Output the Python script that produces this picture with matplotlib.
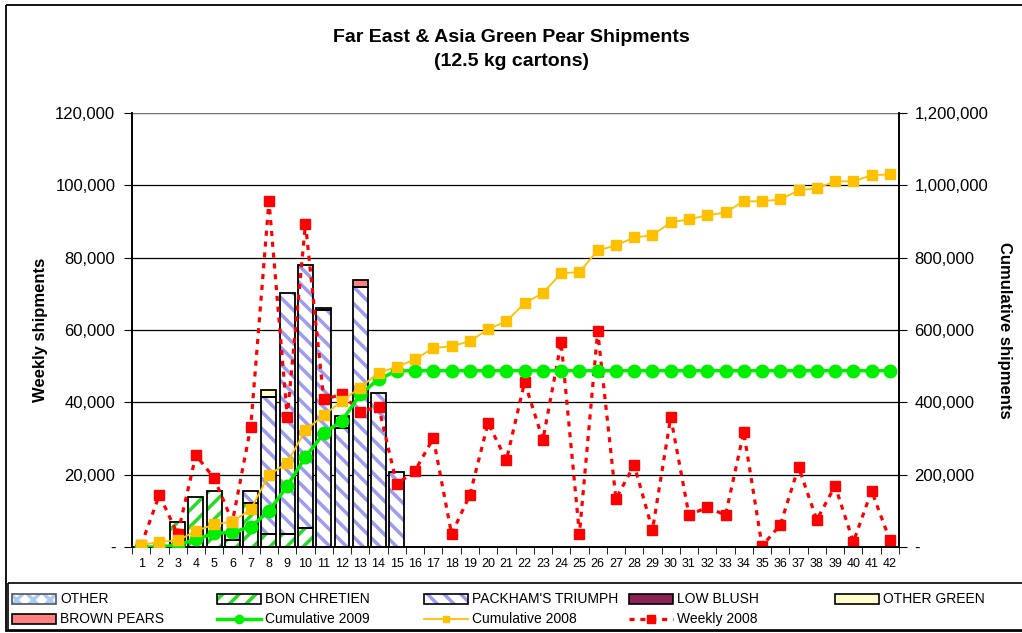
import matplotlib
matplotlib.use("Agg")
import matplotlib.pyplot as plt
import numpy as np
from matplotlib.patches import Rectangle
from matplotlib.lines import Line2D
from matplotlib.ticker import FuncFormatter, FixedLocator

plt.rcParams['font.family'] = ['Liberation Sans', 'DejaVu Sans']
plt.rcParams['hatch.linewidth'] = 2.5

weeks = list(range(1, 43))

bon_chretien = [0, 0, 7000, 13700, 15400, 1900, 12100, 3500, 3500, 5200, 0, 0, 0, 0, 0] + [0] * 27
packham = [0, 0, 0, 0, 0, 1900, 3400, 38000, 66600, 72900, 65500, 32800, 71900, 42600, 20600] + [0] * 27
other_green = [0, 0, 0, 0, 0, 0, 0, 1900, 0, 0, 600, 0, 0, 0, 0] + [0] * 27
brown_pears = [0, 0, 0, 0, 0, 0, 0, 0, 0, 0, 0, 0, 2000, 0, 0] + [0] * 27
low_blush = [0] * 42
other = [0, 0, 0, 0, 0, 0, 0, 0, 0, 0, 0, 3400, 0, 0, 0] + [0] * 27

weekly_2008 = [500, 14400, 3500, 25400, 19000, 7000, 33100, 95700, 36000, 89400,
               40800, 42200, 37400, 38800, 17400, 21100, 30100, 3600, 14400, 34300,
               24000, 45600, 29600, 56600, 3600, 59700, 13300, 22700, 4700, 35900,
               8800, 11000, 8800, 31800, 300, 6100, 22100, 7500, 16900, 1400,
               15500, 1900]

cum_2008 = [5000, 14600, 18000, 44200, 62700, 69900, 104000, 199000, 233000, 323000,
            364000, 404000, 441000, 482000, 498000, 519000, 550000, 555000, 569000, 602000,
            624000, 674000, 702000, 757000, 760000, 820000, 834000, 856000, 862000, 898000,
            906000, 917000, 925000, 956000, 956000, 961000, 986000, 992000, 1011000, 1011000,
            1028000, 1030000]

cum_2009 = [0, 0, 5500, 21000, 38000, 40600, 56000, 99000, 169000, 249000,
            314000, 349000, 422000, 464000, 487000] + [487500] * 27

GREEN_H = '#22DD22'
BLUE_H = '#9C9CF0'
OTHER_H = '#A8CCF2'
WEEKLY_LS = (0, (1.6, 1.8))

W, H = 1022, 633
fig = plt.figure(figsize=(W / 100, H / 100), dpi=100)
L, R, T, B = 132, 899, 113, 547
ax = fig.add_axes([L / W, 1 - B / H, (R - L) / W, (B - T) / H])
ax2 = ax.twinx()

x = np.array(weeks)
bw = 0.82
series = [
    (bon_chretien, 'white', GREEN_H, '//'),
    (packham, 'white', BLUE_H, '\\\\'),
    (other_green, '#FFFFCC', None, None),
    (brown_pears, '#FF8080', None, None),
    (low_blush, '#8B2252', None, None),
    (other, 'white', OTHER_H, None),
]
bottom = np.zeros(42)
for vals, fc, hc, hatch in series:
    v = np.array(vals, dtype=float)
    mask = v > 0
    if mask.any():
        if hatch:
            ax.bar(x[mask], v[mask], bw, bottom=bottom[mask], color=fc, edgecolor=hc,
                   hatch=hatch, linewidth=0, zorder=2)
        else:
            ax.bar(x[mask], v[mask], bw, bottom=bottom[mask], color=fc, linewidth=0, zorder=2)
        ax.bar(x[mask], v[mask], bw, bottom=bottom[mask], fill=False, edgecolor='black',
               linewidth=1.3, zorder=3)
    bottom += v

ax.plot(x, weekly_2008, color='red', linestyle=WEEKLY_LS, linewidth=2.3,
        marker='s', markersize=7, zorder=4)

ax2.plot(x, cum_2009, color='#00EE00', linewidth=2.5, marker='o', markersize=9, zorder=5)
ax2.plot(x, cum_2008, color='#FFC000', linewidth=1.3, marker='s', markersize=6.5, zorder=5)

ax.set_xlim(0.5, 42.5)
ax.set_ylim(0, 120000)
ax2.set_ylim(0, 1200000)
ax.set_yticks(np.arange(0, 120001, 20000))
ax2.set_yticks(np.arange(0, 1200001, 200000))
fmt = FuncFormatter(lambda v, p: '-' if v == 0 else f'{int(v):,}')
ax.yaxis.set_major_formatter(fmt)
ax2.yaxis.set_major_formatter(fmt)
ax.tick_params(axis='y', labelsize=12, direction='out', length=6, pad=6)
ax2.tick_params(axis='y', labelsize=12, direction='out', length=6, pad=5)

ax.set_xticks(x)
ax.set_xticklabels([str(w) for w in weeks], fontsize=9)
ax.tick_params(axis='x', which='major', length=0, pad=8)
ax.xaxis.set_minor_locator(FixedLocator(np.arange(0.5, 43, 1)))
ax.tick_params(axis='x', which='minor', length=5, direction='out')

ax.grid(axis='y', color='black', linewidth=0.9, zorder=0)
ax.set_axisbelow(True)
ax.spines['top'].set_visible(False)
ax2.spines['top'].set_visible(False)
for a in (ax, ax2):
    for s in ('left', 'right', 'bottom'):
        a.spines[s].set_linewidth(1.2)
ax.axhline(120000, color='#888888', linewidth=1.2, zorder=1)

ax.set_ylabel('Weekly shipments', fontsize=12, fontweight='bold', labelpad=5)
ax2.set_ylabel('Cumulative shipments', fontsize=12, fontweight='bold', rotation=-90, labelpad=17)

fig.text(0.5, 1 - 37 / H, 'Far East & Asia Green Pear Shipments', ha='center', va='center',
         fontsize=14, fontweight='bold')
fig.text(0.5, 1 - 61 / H, '(12.5 kg cartons)', ha='center', va='center',
         fontsize=14, fontweight='bold')

# overlay for frame and legend (pixel coordinates)
ov = fig.add_axes([0, 0, 1, 1], zorder=10)
ov.set_xlim(0, W)
ov.set_ylim(H, 0)
ov.axis('off')
ov.patch.set_alpha(0)
ov.add_patch(Rectangle((6, 5), 1040, 626, fill=False, edgecolor='black', linewidth=1.3))
ov.add_patch(Rectangle((8, 583), 1040, 47, fill=False, edgecolor='black', linewidth=1.2))

col_x = [12, 217, 424, 629, 835]
row_y = [599, 619]
kw = 44


def patch_key(cx, cy, fc, hc=None, hatch=None, edge='black'):
    if hatch:
        ov.add_patch(Rectangle((cx, cy - 5), kw, 10, facecolor=fc, edgecolor=hc, hatch=hatch,
                               linewidth=0))
        ov.add_patch(Rectangle((cx, cy - 5), kw, 10, fill=False, edgecolor=edge, linewidth=1.2))
    else:
        ov.add_patch(Rectangle((cx, cy - 5), kw, 10, facecolor=fc, edgecolor=edge, linewidth=1.2))


def line_key(cx, cy, color, lw, ls, marker, ms):
    ov.add_line(Line2D([cx, cx + kw], [cy, cy], color=color, linewidth=lw, linestyle=ls))
    ov.add_line(Line2D([cx + kw / 2], [cy], color=color, marker=marker, markersize=ms,
                       linestyle='none'))


def label(cx, cy, s):
    ov.text(cx + kw + 4, cy, s, ha='left', va='center', fontsize=10)


patch_key(col_x[0], row_y[0], 'white', OTHER_H, 'xx', edge='#555555'); label(col_x[0], row_y[0], 'OTHER')
patch_key(col_x[1], row_y[0], 'white', GREEN_H, '//'); label(col_x[1], row_y[0], 'BON CHRETIEN')
patch_key(col_x[2], row_y[0], 'white', BLUE_H, '\\\\'); label(col_x[2], row_y[0], "PACKHAM'S TRIUMPH")
patch_key(col_x[3], row_y[0], '#8B2252'); label(col_x[3], row_y[0], 'LOW BLUSH')
patch_key(col_x[4], row_y[0], '#FFFFCC'); label(col_x[4], row_y[0], 'OTHER GREEN')
patch_key(col_x[0], row_y[1], '#FF8080'); label(col_x[0], row_y[1], 'BROWN PEARS')
line_key(col_x[1], row_y[1], '#00EE00', 2.5, '-', 'o', 6)
label(col_x[1], row_y[1], 'Cumulative 2009')
line_key(col_x[2], row_y[1], '#FFC000', 1.3, '-', 's', 5)
label(col_x[2], row_y[1], 'Cumulative 2008')
line_key(col_x[3], row_y[1], 'red', 2.3, WEEKLY_LS, 's', 6)
label(col_x[3], row_y[1], 'Weekly 2008')

fig.savefig('out.png', dpi=100)
